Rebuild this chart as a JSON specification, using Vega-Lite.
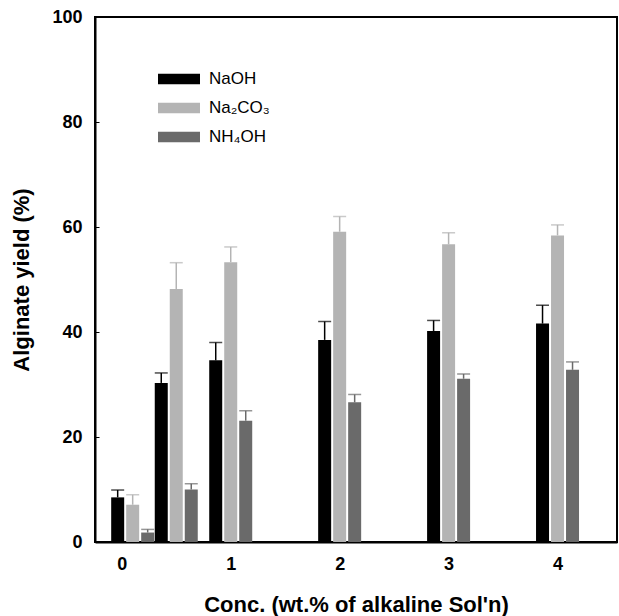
{
  "$schema": "https://vega.github.io/schema/vega-lite/v6.json",
  "width": 522,
  "height": 525,
  "autosize": "none",
  "padding": {"left": 95, "top": 17, "right": 2, "bottom": 74},
  "config": {
    "view": {"stroke": "#000000", "strokeWidth": 2},
    "font": "Liberation Sans",
    "axis": {
      "grid": false,
      "domainColor": "#000000",
      "domainWidth": 2,
      "tickColor": "#000000",
      "tickSize": -4,
      "tickWidth": 1,
      "labelFont": "Liberation Sans",
      "labelFontWeight": "bold",
      "labelFontSize": 18,
      "labelColor": "#000000",
      "titleFont": "Liberation Sans",
      "titleFontWeight": "bold",
      "titleFontSize": 22,
      "titleColor": "#000000"
    }
  },
  "data": {
    "values": [
      {"conc": 0.1, "series": "NaOH", "yield": 8.5, "hi": 9.9},
      {"conc": 0.1, "series": "Na₂CO₃", "yield": 7.1, "hi": 9.0},
      {"conc": 0.1, "series": "NH₄OH", "yield": 1.8, "hi": 2.4},
      {"conc": 0.5, "series": "NaOH", "yield": 30.3, "hi": 32.2},
      {"conc": 0.5, "series": "Na₂CO₃", "yield": 48.2, "hi": 53.2},
      {"conc": 0.5, "series": "NH₄OH", "yield": 10.0, "hi": 11.1},
      {"conc": 1, "series": "NaOH", "yield": 34.6, "hi": 38.0},
      {"conc": 1, "series": "Na₂CO₃", "yield": 53.3, "hi": 56.2},
      {"conc": 1, "series": "NH₄OH", "yield": 23.1, "hi": 25.0},
      {"conc": 2, "series": "NaOH", "yield": 38.5, "hi": 42.0},
      {"conc": 2, "series": "Na₂CO₃", "yield": 59.1, "hi": 62.0},
      {"conc": 2, "series": "NH₄OH", "yield": 26.6, "hi": 28.1},
      {"conc": 3, "series": "NaOH", "yield": 40.2, "hi": 42.2},
      {"conc": 3, "series": "Na₂CO₃", "yield": 56.7, "hi": 58.9},
      {"conc": 3, "series": "NH₄OH", "yield": 31.1, "hi": 32.0},
      {"conc": 4, "series": "NaOH", "yield": 41.6, "hi": 45.1},
      {"conc": 4, "series": "Na₂CO₃", "yield": 58.4, "hi": 60.4},
      {"conc": 4, "series": "NH₄OH", "yield": 32.8, "hi": 34.3}
    ]
  },
  "encoding": {
    "x": {
      "field": "conc",
      "type": "quantitative",
      "scale": {"domain": [-0.2, 4.5], "nice": false, "zero": false},
      "axis": {"values": [0, 1, 2, 3, 4], "labelPadding": 17, "title": "Conc. (wt.% of alkaline Sol'n)", "titlePadding": 21}
    },
    "y": {
      "field": "yield",
      "type": "quantitative",
      "scale": {"domain": [0, 100], "nice": false},
      "axis": {"values": [0, 20, 40, 60, 80, 100], "labelPadding": 17, "title": "Alginate yield (%)", "titlePadding": 18}
    },
    "color": {
      "field": "series",
      "type": "nominal",
      "scale": {"domain": ["NaOH", "Na₂CO₃", "NH₄OH"], "range": ["#000000", "#b4b4b4", "#6a6a6a"]},
      "legend": {
        "title": null,
        "orient": "none",
        "legendX": 63,
        "legendY": 41,
        "padding": 0,
        "symbolType": "M-1,-0.25H1V0.25H-1Z",
        "symbolSize": 1764,
        "symbolStrokeWidth": 0,
        "symbolOpacity": 1,
        "rowPadding": -19,
        "labelOffset": 9,
        "labelFont": "Liberation Sans",
        "labelFontSize": 17,
        "labelColor": "#000000"
      }
    }
  },
  "layer": [
    {
      "transform": [{"filter": "datum.series == 'NaOH'"}],
      "layer": [
        {"mark": {"type": "rule", "strokeWidth": 1.5, "xOffset": -15}, "encoding": {"y2": {"field": "hi"}}},
        {"mark": {"type": "tick", "orient": "horizontal", "size": 13, "thickness": 1.5, "xOffset": -15}, "encoding": {"y": {"field": "hi", "type": "quantitative"}}},
        {"mark": {"type": "bar", "width": 13, "xOffset": -15}, "encoding": {}}
      ]
    },
    {
      "transform": [{"filter": "datum.series == 'Na₂CO₃'"}],
      "layer": [
        {"mark": {"type": "rule", "strokeWidth": 1.5, "xOffset": 0}, "encoding": {"y2": {"field": "hi"}}},
        {"mark": {"type": "tick", "orient": "horizontal", "size": 13, "thickness": 1.5, "xOffset": 0}, "encoding": {"y": {"field": "hi", "type": "quantitative"}}},
        {"mark": {"type": "bar", "width": 13, "xOffset": 0}, "encoding": {}}
      ]
    },
    {
      "transform": [{"filter": "datum.series == 'NH₄OH'"}],
      "layer": [
        {"mark": {"type": "rule", "strokeWidth": 1.5, "xOffset": 15}, "encoding": {"y2": {"field": "hi"}}},
        {"mark": {"type": "tick", "orient": "horizontal", "size": 13, "thickness": 1.5, "xOffset": 15}, "encoding": {"y": {"field": "hi", "type": "quantitative"}}},
        {"mark": {"type": "bar", "width": 13, "xOffset": 15}, "encoding": {}}
      ]
    }
  ]
}
